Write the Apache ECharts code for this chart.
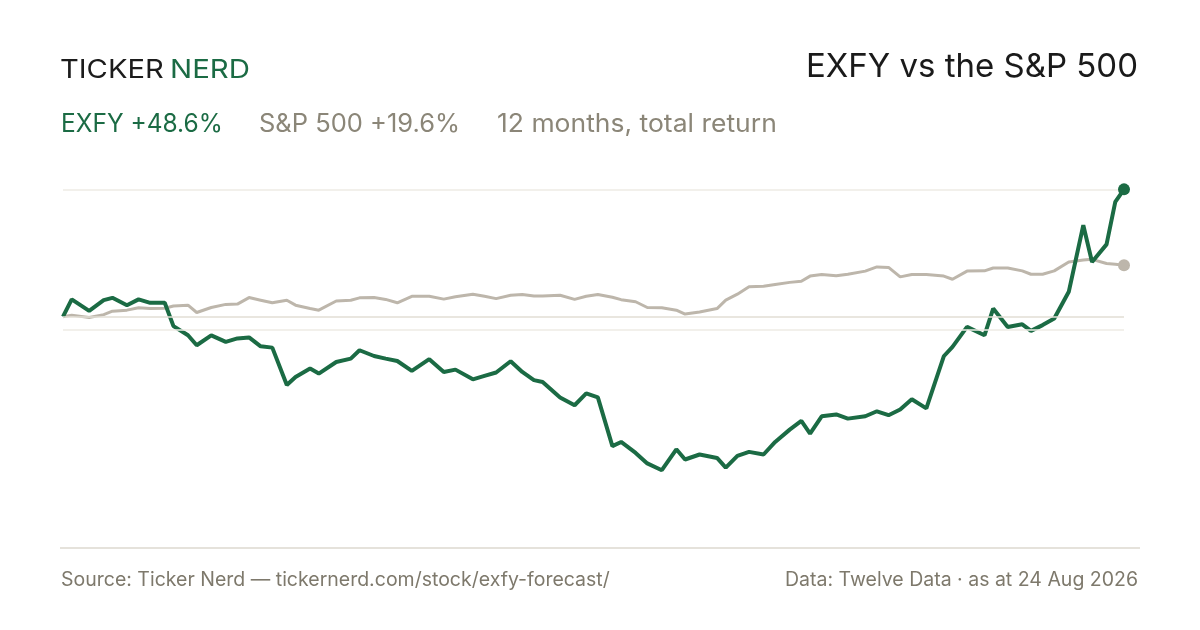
<!DOCTYPE html>
<html lang="en">
	<head>
		<meta charset="utf-8" />
		<title>EXFY vs the S&amp;P 500</title>
		<style>
			html, body { margin: 0; padding: 0; background: #fff; }
			#chart { width: 1200px; height: 630px; }
		</style>
	</head>
	<body>
		<div id="chart"></div>
		<script src="https://cdn.jsdelivr.net/npm/echarts@6/dist/echarts.min.js"></script>
		<script type="text/javascript">
			// calendar day offsets from the start of the 12 month window
			const days = [0, 3, 9, 14, 17, 22, 26, 30, 35, 38, 43, 46, 51, 56, 60, 64, 68, 72, 77, 80,
				85, 88, 94, 99, 102, 107, 111, 115, 120, 126, 131, 135, 141, 145, 149, 154, 158, 162, 165, 171,
				176, 180, 184, 189, 192, 197, 201, 206, 211, 214, 219, 225, 228, 232, 236, 241, 245, 250, 254, 257,
				261, 266, 270, 276, 280, 284, 288, 292, 297, 303, 306, 311, 317, 320, 325, 330, 333, 337, 341, 346,
				351, 354, 359, 362, 365];
			// total return, %
			const exfy = [0, 6.6, 2.2, 6.3, 7.2, 4.4, 6.6, 5.3, 5.3, -3.6, -7.1, -10.9, -7.1, -9.6, -8.3, -7.9, -11.3, -11.8, -26.1, -23.0,
				-19.8, -21.7, -17.3, -16.0, -12.8, -15.0, -16.0, -16.9, -20.7, -16.2, -21.1, -20.2, -23.9, -22.6, -21.3, -17.0, -21.1, -24.2, -24.9, -30.8,
				-33.8, -29.3, -30.8, -49.4, -47.8, -52.0, -56.0, -58.6, -50.6, -54.5, -52.6, -53.9, -57.6, -53.1, -51.6, -52.6, -47.8, -43.1, -39.8, -44.6,
				-38.0, -37.3, -38.9, -38.0, -36.1, -37.6, -35.4, -31.5, -35.0, -15.1, -11.5, -3.9, -7.1, 3.1, -3.9, -2.9, -5.4, -3.2, -0.7, 9.5,
				34.9, 20.9, 27.6, 43.8, 48.6];
			const spx = [0, 0.6, -0.3, 0.8, 2.1, 2.5, 3.4, 3.1, 3.2, 4.1, 4.4, 1.6, 3.5, 4.7, 4.8, 7.3, 6.3, 5.3, 6.3, 4.4,
				3.1, 2.5, 6.0, 6.3, 7.2, 7.3, 6.6, 5.3, 7.8, 7.8, 6.7, 7.6, 8.6, 7.8, 6.9, 8.2, 8.5, 7.9, 7.9, 8.2,
				6.6, 7.8, 8.5, 7.4, 6.5, 5.7, 3.5, 3.4, 2.5, 1.0, 1.8, 3.1, 6.3, 8.6, 11.4, 11.6, 12.3, 13.1, 13.5, 15.5,
				16.1, 15.6, 16.2, 17.4, 19.0, 18.8, 15.2, 16.1, 16.1, 15.5, 14.3, 17.4, 17.5, 18.6, 18.6, 17.5, 16.2, 16.2, 17.5, 20.9,
				21.6, 21.9, 20.3, 20.0, 19.6];
			const gridValues = [48.6, 0, -5];

			const GREEN = '#1b6b44';
			const SAND = '#bdb6ab';
			const GREY = '#8b8678';
			const FONT = 'Inter, "Noto Sans", sans-serif';

			const pairs = (vals) => days.map((d, i) => [d, vals[i]]);
			const last = (vals) => [[days[days.length - 1], vals[vals.length - 1]]];

			const txt = (text, x, y, size, fill, align, sx) => ({
				type: 'text',
				x, y,
				scaleX: sx || 1,
				style: { text, font: `${size}px ${FONT}`, fill, textAlign: align || 'left', textVerticalAlign: 'middle' },
			});

			const chart = echarts.init(document.getElementById('chart'));
			chart.setOption({
				animation: false,
				backgroundColor: '#fff',
				grid: { left: 63, right: 76, top: 159.5, bottom: 77.5 },
				xAxis: { type: 'value', min: 0, max: 365, show: false },
				yAxis: { type: 'value', min: -90, max: 60, show: false },
				graphic: [
					// wordmark is letter-spaced in the original, stretch it a little
					txt('TICKER', 60, 70, 26, '#1c1c1c', 'left', 1.12),
					txt('NERD', 170, 70, 26, GREEN, 'left', 1.13),
					txt('EXFY vs the S&P 500', 1138, 67, 33, '#1a1a1a', 'right'),
					txt('EXFY +48.6%', 61, 124, 25, GREEN, 'left', 0.98),
					txt('S&P 500 +19.6%', 259, 124, 25, GREY, 'left', 1.02),
					txt('12 months, total return', 497, 124, 25, GREY, 'left', 1.06),
					txt('Source: Ticker Nerd \u2014 tickernerd.com/stock/exfy-forecast/', 61, 580, 19.5, '#7e796c'),
					txt('Data: Twelve Data \u00b7 as at 24 Aug 2026', 1138, 580, 19.5, '#7e796c', 'right'),
					{
						type: 'line',
						shape: { x1: 60, y1: 548, x2: 1140, y2: 548 },
						style: { stroke: '#ddd9cf', lineWidth: 1.5 },
					},
				],
				series: [
					{
						name: 'S&P 500',
						type: 'line',
						data: pairs(spx),
						showSymbol: false,
						lineStyle: { color: SAND, width: 3 },
						z: 2,
						markLine: {
							silent: true,
							symbol: 'none',
							label: { show: false },
							data: gridValues.map((v) => ({
								yAxis: v,
								lineStyle: { color: v === 0 ? '#e2ded5' : '#eeebe5', width: 1.5, type: 'solid' },
							})),
						},
					},
					{
						name: 'EXFY',
						type: 'line',
						data: pairs(exfy),
						showSymbol: false,
						lineStyle: { color: GREEN, width: 4 },
						z: 3,
					},
					{
						type: 'scatter',
						data: last(spx),
						symbolSize: 12,
						itemStyle: { color: SAND, opacity: 1 },
						z: 4,
					},
					{
						type: 'scatter',
						data: last(exfy),
						symbolSize: 12,
						itemStyle: { color: GREEN, opacity: 1 },
						z: 5,
					},
				],
			});
		</script>
	</body>
</html>
